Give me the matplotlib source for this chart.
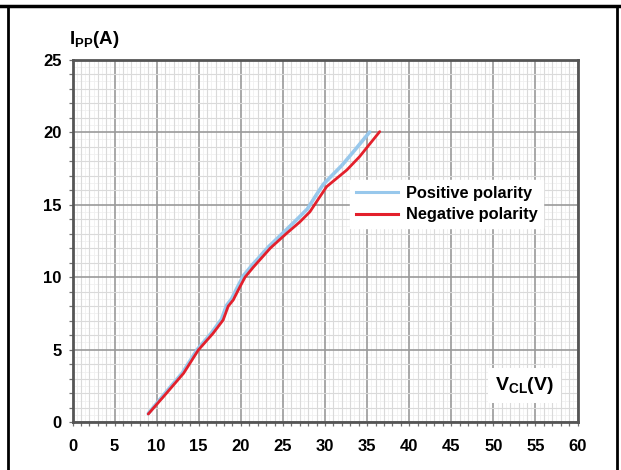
import matplotlib
matplotlib.use("Agg")
import matplotlib.pyplot as plt
from matplotlib.lines import Line2D
import numpy as np

plt.rcParams['font.family'] = ['Liberation Sans', 'DejaVu Sans']
plt.rcParams['mathtext.fontset'] = 'custom'
plt.rcParams['mathtext.rm'] = 'Liberation Sans:bold'
plt.rcParams['mathtext.bf'] = 'Liberation Sans:bold'

# Data
neg_v = [9.0, 10.8, 13.2, 14.95, 16.7, 17.9, 18.5, 19.1, 19.7, 20.5, 21.5, 23.5, 25.4, 27.0, 28.2, 29.4, 30.2, 32.6, 34.1, 36.5]
neg_i = [0.57, 1.76, 3.38, 4.98, 6.13, 7.05, 8.0, 8.43, 9.12, 10.0, 10.7, 12.0, 13.0, 13.8, 14.5, 15.55, 16.24, 17.39, 18.3, 20.03]
pos_v = [9.0, 10.7, 13.05, 14.8, 16.5, 17.7, 18.3, 18.9, 19.5, 20.3, 21.3, 23.3, 25.1, 26.7, 27.9, 29.0, 29.8, 32.0, 33.6, 35.3]
pos_i = [0.6, 1.8, 3.4, 5.0, 6.15, 7.1, 8.05, 8.5, 9.2, 10.1, 10.8, 12.1, 13.1, 14.0, 14.7, 15.7, 16.4, 17.7, 18.8, 20.0]
x_ticks = [0, 5, 10, 15, 20, 25, 30, 35, 40, 45, 50, 55, 60]
y_ticks = [0, 5, 10, 15, 20, 25]
series_labels = ["Positive polarity", "Negative polarity"]
pos_color = '#98c8ec'
neg_color = '#e3202c'

W, H = 621, 470
fig = plt.figure(figsize=(W/100, H/100), dpi=100)
ax = fig.add_axes([72.5/W, 1-422.3/H, 505/W, 362.8/H])
ax.set_xlim(0, 60)
ax.set_ylim(0, 25)

# grid
for v in np.arange(0, 60.01, 0.5):
    if v % 1 != 0:
        ax.axvline(v, color='#f0f0f0', lw=0.6, zorder=0)
for v in np.arange(0, 25.01, 0.5):
    if v % 1 != 0:
        ax.axhline(v, color='#f0f0f0', lw=0.6, zorder=0)
ax.set_xticks(x_ticks)
ax.set_yticks(y_ticks)
ax.set_xticks(np.arange(0, 61, 1), minor=True)
ax.set_yticks(np.arange(0, 26, 1), minor=True)
ax.grid(which='minor', color='#dadada', lw=0.8, zorder=0.5)
ax.grid(which='major', color='#9a9a9a', lw=1.2, zorder=1)
ax.set_axisbelow(True)

for s in ax.spines.values():
    s.set_color('#555555')
    s.set_linewidth(2)

ax.tick_params(which='both', direction='out', length=3, width=0.9, color='#707070')
ax.tick_params(axis='x', which='major', pad=9)
ax.tick_params(axis='y', which='major', pad=5)
ax.set_xticklabels([str(t) for t in x_ticks], fontsize=12, fontweight='bold')
ax.set_yticklabels([str(t) for t in y_ticks], fontsize=12, fontweight='bold')

ax.plot(pos_v, pos_i, color=pos_color, lw=2.6, zorder=3, solid_capstyle='round')
ax.plot(neg_v, neg_i, color=neg_color, lw=2.0, zorder=4, solid_capstyle='round')

handles = [Line2D([], [], color=pos_color, lw=2.2), Line2D([], [], color=neg_color, lw=2.2)]
leg = ax.legend(handles, series_labels, loc='upper left', bbox_to_anchor=((350-72.5)/505, (422.3-180)/362.8),
                frameon=True, fancybox=False, framealpha=1, edgecolor='white', facecolor='white',
                prop={'weight': 'bold', 'size': 11.8}, handlelength=2.6, handletextpad=0.45,
                borderpad=0.35, labelspacing=0.4, borderaxespad=0)
leg.set_zorder(5)

ax.text(53.7, 2.55, r'$\mathregular{V_{CL}}$(V)', fontsize=14, fontweight='bold', ha='center', va='center',
        zorder=6, bbox=dict(facecolor='white', edgecolor='none', pad=5))

fig.text(69/W, 1-40/H, r'$\mathregular{I_{PP}}$(A)', fontsize=13.5, fontweight='bold', ha='left', va='center')

# figure frame lines
fig.add_artist(Line2D([0, 1], [1-6/H, 1-6/H], color='black', lw=2.5, transform=fig.transFigure))
fig.add_artist(Line2D([8/W, 8/W], [0, 1-6/H], color='black', lw=2, transform=fig.transFigure))
fig.add_artist(Line2D([617/W, 617/W], [0, 1-6/H], color='black', lw=2, transform=fig.transFigure))

fig.savefig('out.png', dpi=100)
